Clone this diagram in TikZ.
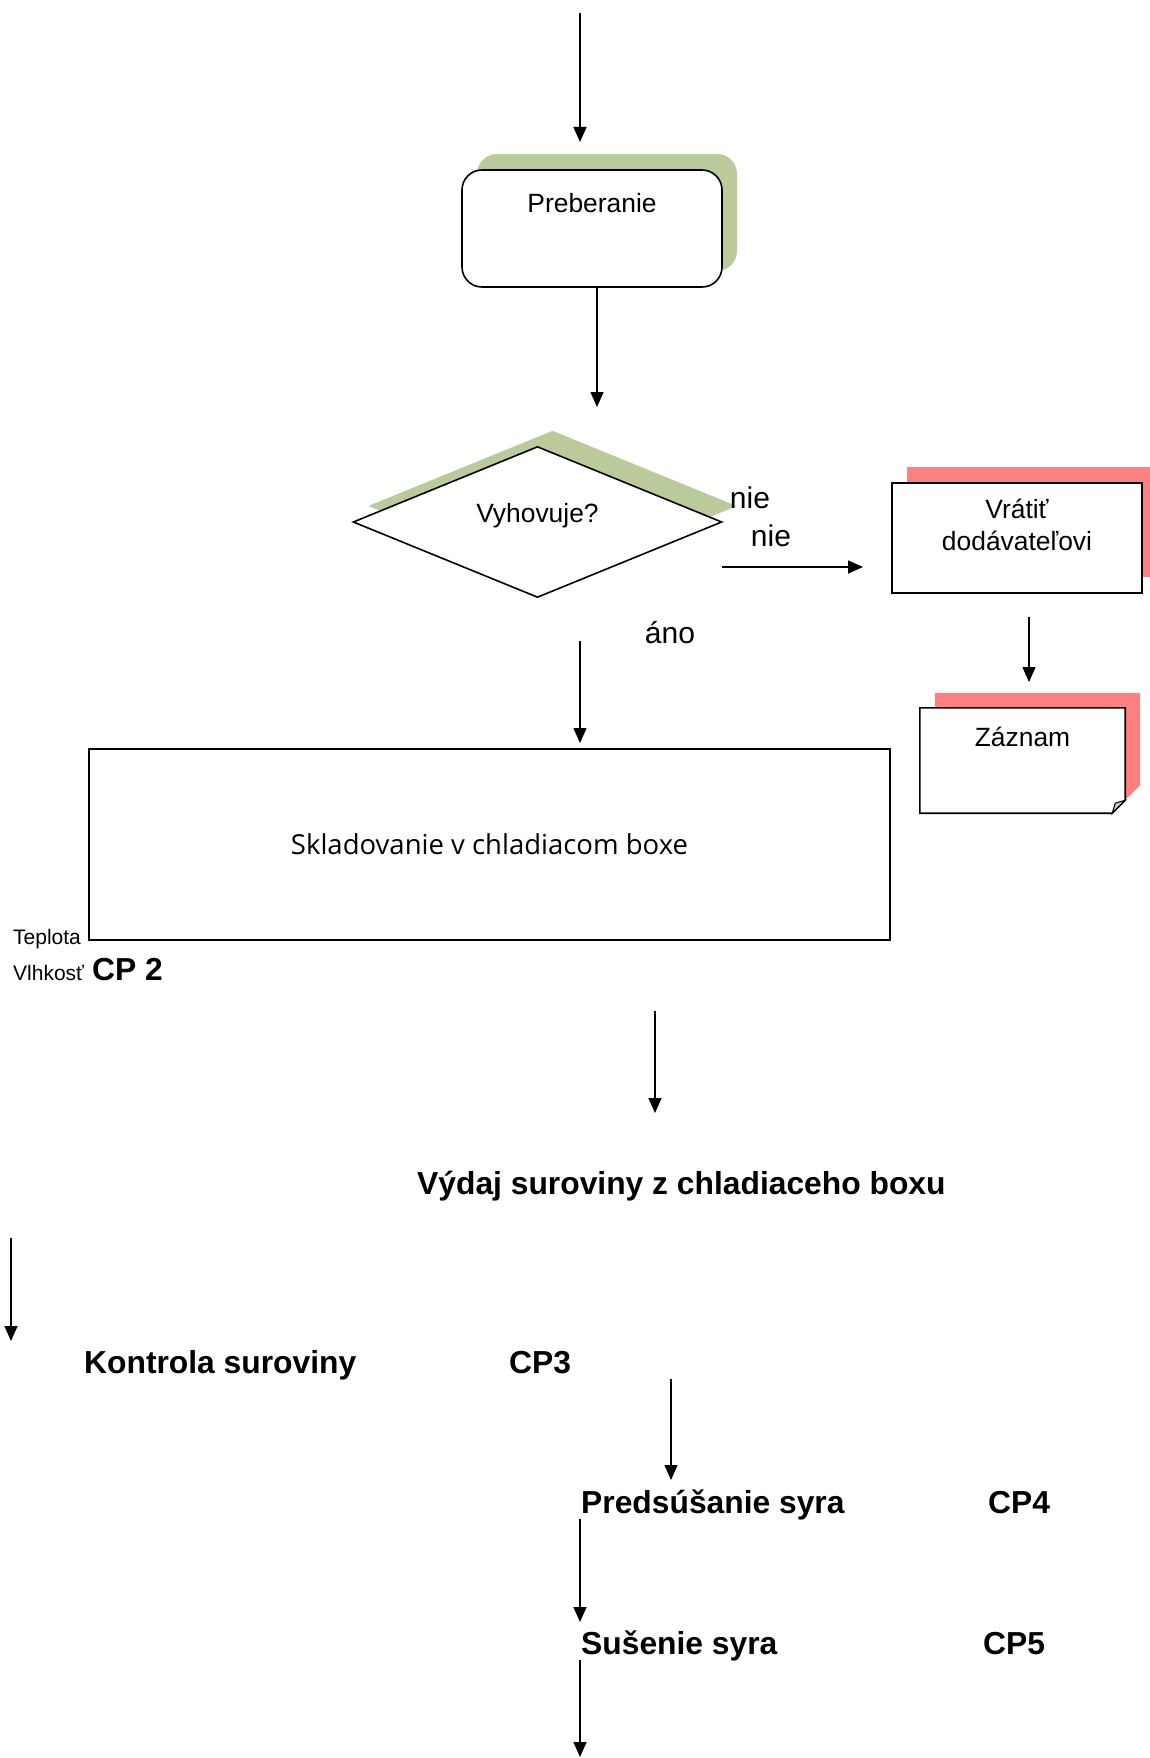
\documentclass[tikz,border=0pt]{standalone}
\usepackage{fontspec}
\setmainfont{Liberation Sans}
\newfontfamily\boxfont{Open Sans}
\usetikzlibrary{positioning,shapes.geometric,shadows,arrows.meta}
\definecolor{shgreen}{RGB}{187,202,155}
\definecolor{shred}{RGB}{255,128,128}

\begin{document}
\begin{tikzpicture}[x=1pt,y=-1pt,
                    arr/.style={-{Triangle[width=13pt,length=15pt]},line width=1.4pt},
                    txt/.style={font=\fontsize{26.4}{32}\selectfont,inner sep=0pt},
                    bigtxt/.style={font=\fontsize{30}{36}\selectfont,inner sep=0pt,anchor=base},
                    smalltxt/.style={font=\fontsize{21}{25}\selectfont,inner sep=0pt,anchor=base west},
                    boldtxt/.style={font=\fontsize{31.8}{38}\selectfont\bfseries,inner sep=0pt,anchor=base west},
                    gshadow/.style={general shadow={fill=shgreen,shadow xshift=15pt,shadow yshift=16pt}},
                    rshadow/.style={general shadow={fill=shred,shadow xshift=15pt,shadow yshift=16pt}},
                    procbox/.style={draw,line width=1.6pt,fill=white,inner sep=0pt}]

        \useasboundingbox (0,0) rectangle (1149,1758);

        % Define boxes
        \node[procbox,gshadow,rounded corners=20pt,minimum width=260pt,minimum height=117pt] (preb) at (592,228.5) {};
        \node[txt,anchor=base] (prebt) at ([yshift=-43pt]preb.north) {Preberanie};

        \node[procbox,gshadow,diamond,minimum width=369pt,minimum height=151pt] (vyh) at (537.5,522) {};
        \node[txt,anchor=base] (vyht) at (vyh.center) {Vyhovuje?};

        \node[procbox,rshadow,minimum width=250pt,minimum height=110pt] (vrat) at (1017,538) {};
        \node[txt,align=center] (vratt) at ([yshift=-43pt]vrat.north) {Vrátiť\\dodávateľovi};

        \node[inner sep=0pt,minimum width=205pt,minimum height=105pt] (zaz) at (1022.5,760.5) {};
        \fill[shred,transform canvas={xshift=15pt,yshift=15pt}] (zaz.north west) -- (zaz.north east)
            -- ([yshift=13pt]zaz.south east) -- ([xshift=-13pt]zaz.south east) -- (zaz.south west) -- cycle;
        \filldraw[fill=white,line width=1.6pt] (zaz.north west) -- (zaz.north east)
            -- ([yshift=13pt]zaz.south east) -- ([xshift=-13pt]zaz.south east) -- (zaz.south west) -- cycle;
        \filldraw[fill=gray!45,line width=1pt] ([yshift=13pt]zaz.south east) -- ([xshift=-13pt]zaz.south east)
            -- ([shift={(-10,-10)}]zaz.south east) -- cycle;
        \node[txt,anchor=base] (zazt) at ([yshift=-39pt]zaz.north) {Záznam};

        \node[procbox,minimum width=801pt,minimum height=191pt,font=\boxfont\fontsize{27.5}{33}\selectfont] (sklad) at (489.5,844.5) {Skladovanie v chladiacom boxe};

        % Labels
        \node[bigtxt] (nie1) at (750,508) {nie};
        \node[bigtxt] (nie2) at (771,546) {nie};
        \node[bigtxt] (ano) at (670,643) {áno};
        \node[smalltxt] (tepl) at (13,944) {Teplota};
        \node[smalltxt] (vlhk) at (13,980) {Vlhkosť};
        \node[boldtxt] (cp2) at (92,980) {CP 2};
        \node[boldtxt] (vydaj) at (417,1194) {Výdaj suroviny z chladiaceho boxu};
        \node[boldtxt] (kontr) at (84,1373) {Kontrola suroviny};
        \node[boldtxt] (cp3) at (509,1373) {CP3};
        \node[boldtxt] (preds) at (581,1513) {Predsúšanie syra};
        \node[boldtxt] (cp4) at (988,1513) {CP4};
        \node[boldtxt] (susen) at (581,1654) {Sušenie syra};
        \node[boldtxt] (cp5) at (983,1654) {CP5};

        % Arrow ends
        \coordinate (in0) at (580,13);
        \coordinate (in1) at (580,142);
        \coordinate (c1) at (597,407);
        \coordinate (n0) at (722,567);
        \coordinate (n1) at (863,567);
        \coordinate (z0) at (1029,617);
        \coordinate (z1) at (1029,682);
        \coordinate (a0) at (580,641);
        \coordinate (a1) at (580,743);
        \coordinate (s0) at (655,1011);
        \coordinate (s1) at (655,1113);
        \coordinate (k0) at (11,1238);
        \coordinate (k1) at (11,1341);
        \coordinate (p0) at (671,1379);
        \coordinate (p1) at (671,1480);
        \coordinate (u0) at (580,1519);
        \coordinate (u1) at (580,1622);
        \coordinate (e0) at (580,1660);
        \coordinate (e1) at (580,1757);

        % Draw arrows
        \path[arr]
            (in0) edge (in1)
            (preb.south -| c1) edge (c1)
            (n0) edge (n1)
            (z0) edge (z1)
            (a0) edge (a1)
            (s0) edge (s1)
            (k0) edge (k1)
            (p0) edge (p1)
            (u0) edge (u1)
            (e0) edge (e1);

        \end{tikzpicture}
\end{document}
